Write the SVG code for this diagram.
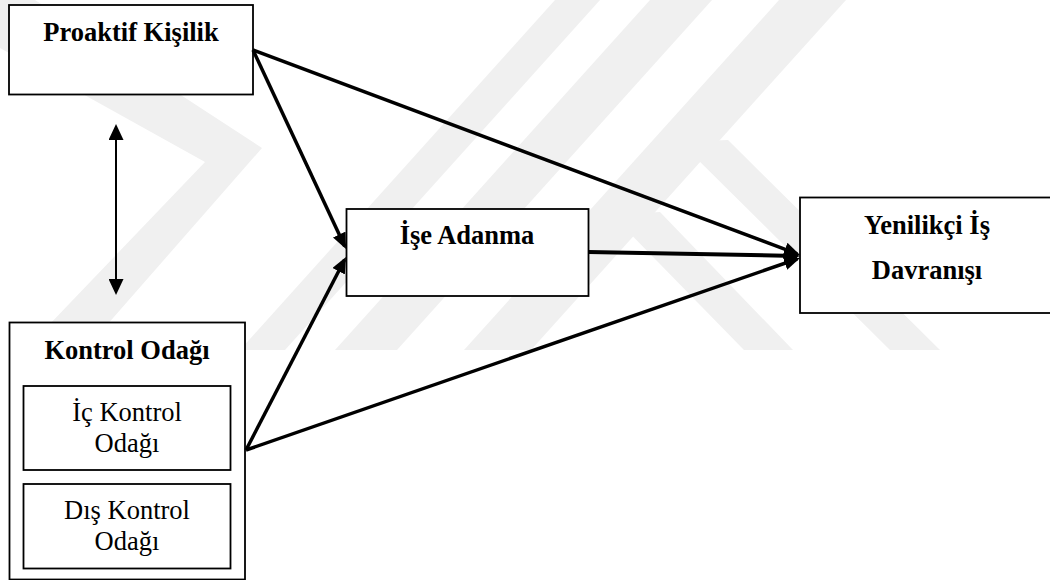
<svg xmlns="http://www.w3.org/2000/svg" width="1050" height="580" viewBox="0 0 1050 580">
  <defs>
    <style>
      .wm { fill: #f0f0f0; stroke: none; }
      .box { fill: #ffffff; stroke: #000000; stroke-width: 1.8; }
      .b { font-family: "Liberation Serif", "Times New Roman", serif; font-weight: bold; font-size: 26.5px; fill: #000; text-anchor: middle; }
      .r { font-family: "Liberation Serif", "Times New Roman", serif; font-weight: normal; font-size: 26.5px; fill: #000; text-anchor: middle; }
      .conn { stroke: #000; stroke-width: 3.5; fill: none; marker-end: url(#head); }
      .dbl { stroke: #000; stroke-width: 2; fill: none; marker-start: url(#head2); marker-end: url(#head2); }
    </style>
    <marker id="head" markerUnits="userSpaceOnUse" viewBox="0 0 16 14" markerWidth="16" markerHeight="14" refX="13" refY="7" orient="auto">
      <path d="M0,0 L16,7 L0,14 z" fill="#000"/>
    </marker>
    <marker id="head2" markerUnits="userSpaceOnUse" viewBox="0 0 16 15" markerWidth="16" markerHeight="15" refX="14" refY="7.5" orient="auto-start-reverse">
      <path d="M0,0 L16,7.5 L0,15 z" fill="#000"/>
    </marker>
  </defs>

  <rect x="0" y="0" width="1050" height="580" fill="#ffffff"/>

  <g id="watermark">
    <polygon class="wm" points="0,0 35,0 262,148 85,350 25,350 205,162 0,48"/>
    <polygon class="wm" points="555,0 600,0 285,350 240,350"/>
    <polygon class="wm" points="650,0 712,0 397,350 335,350"/>
    <polygon class="wm" points="779,0 846,0 531,350 464,350"/>
    <polygon class="wm" points="612,215 660,212 793,350 744,350"/>
    <polygon class="wm" points="680,142 728,140 940,350 890,350"/>
  </g>

  <g id="node-proaktif">
    <rect class="box" x="9" y="5" width="244" height="89.5"/>
    <text class="b" x="131" y="41">Proaktif Kişilik</text>
  </g>

  <g id="node-kontrol">
    <rect class="box" x="9.5" y="322.5" width="235.5" height="257"/>
    <text class="b" x="127" y="358.5">Kontrol Odağı</text>
  </g>

  <g id="node-ic">
    <rect class="box" x="23.5" y="386" width="207" height="84"/>
    <text class="r" x="127" y="421">İç Kontrol</text>
    <text class="r" x="127" y="452">Odağı</text>
  </g>

  <g id="node-dis">
    <rect class="box" x="23.5" y="484" width="207" height="84.5"/>
    <text class="r" x="127" y="518.5">Dış Kontrol</text>
    <text class="r" x="127" y="550">Odağı</text>
  </g>

  <g id="node-adanma">
    <rect class="box" x="346.5" y="209" width="242" height="87"/>
    <text class="b" x="467" y="244">İşe Adanma</text>
  </g>

  <g id="node-yenilikci">
    <rect class="box" x="800" y="197.5" width="260" height="115.5"/>
    <text class="b" x="927" y="234">Yenilikçi İş</text>
    <text class="b" x="927" y="278.5">Davranışı</text>
  </g>

  <g id="connectors">
    <line class="conn" x1="253" y1="50" x2="797.2" y2="253.9"/>
    <line class="conn" x1="253" y1="50" x2="344.7" y2="246.3"/>
    <line class="conn" x1="246" y1="450" x2="344.6" y2="259.7"/>
    <line class="conn" x1="246" y1="450" x2="797.2" y2="259"/>
    <line class="conn" x1="588.5" y1="252" x2="797" y2="255.9" style="stroke-width:4"/>
    <line class="dbl" x1="116" y1="126" x2="116" y2="293"/>
  </g>
</svg>
